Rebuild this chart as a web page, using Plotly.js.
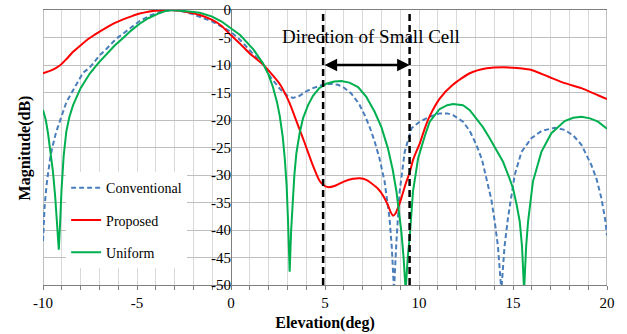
<!DOCTYPE html>
<html>
<head>
<meta charset="utf-8">
<script src="https://cdn.plot.ly/plotly-3.0.1.min.js"></script>
<style>html,body{margin:0;padding:0;background:#fff;}#chart{width:627px;height:334px;}</style>
</head>
<body>
<div id="chart"></div>
<script>
// ---- Data ----
const seriesNames = ["Conventional", "Proposed", "Uniform"];

const elevConv = [-10, -9.91, -9.8, -9.73, -9.6, -9.47, -9.3, -9.11, -8.76, -8.4, -7.87, -7.52, -6.98, -6.63, -6.1, -5.74, -5.23, -4.86, -4.3, -3.8, -3.2, -2.6, -2.0, -1.5, -1.0, -0.5, 0, 0.5, 1.0, 1.4, 1.7, 2.06, 2.59, 3.0, 3.3, 3.65, 4.0, 4.36, 4.9, 5.3, 5.69, 6.0, 6.4, 6.8, 7.11, 7.4, 7.64, 7.9, 8.17, 8.43, 8.55, 8.67, 8.8, 8.97, 9.24, 9.6, 10.04, 10.57, 11.1, 11.5, 11.81, 12.34, 12.7, 13.05, 13.35, 13.59, 13.85, 14.03, 14.2, 14.38, 14.55, 14.73, 14.9, 15.09, 15.45, 15.98, 16.51, 17.22, 17.75, 18.2, 18.64, 19.17, 19.45, 19.7, 19.9, 20];
const magConv = [-42, -35.5, -31.5, -29.4, -26.5, -24.5, -22.2, -20.3, -16.8, -14.6, -11.4, -10.5, -8.2, -7.1, -5.2, -4.3, -2.9, -2.0, -1.0, -0.35, 0, -0.25, -0.8, -1.4, -2.1, -3.0, -4.0, -5.5, -7.4, -8.8, -9.8, -12.0, -14.3, -15.6, -16.0, -15.6, -14.8, -14.2, -13.6, -13.4, -13.6, -14.1, -15.2, -17.0, -19.1, -21.5, -23.9, -27.0, -31.2, -37.8, -43, -51, -42, -33, -25.8, -21.5, -20.3, -19.4, -18.8, -18.8, -19.1, -20.3, -22.0, -24.5, -27.2, -30.6, -34.5, -38.5, -43, -51, -43, -37.9, -33.8, -30.0, -25.8, -23.3, -22.0, -21.4, -21.8, -22.8, -24.5, -28.2, -30.8, -34.2, -38, -41];

const elevProp = [-10, -9.5, -9.11, -8.75, -8.4, -7.96, -7.52, -7.07, -6.63, -6.2, -5.74, -5.3, -4.86, -4.4, -3.9, -3.3, -2.8, -2.3, -1.66, -1.0, -0.5, 0, 0.5, 1.0, 1.7, 2.2, 2.6, 3.1, 3.48, 3.9, 4.36, 4.7, 4.95, 5.16, 5.5, 6.0, 6.5, 6.85, 7.2, 7.5, 7.82, 8.1, 8.35, 8.5, 8.62, 8.75, 8.9, 9.06, 9.3, 9.5, 9.68, 9.85, 10.04, 10.3, 10.57, 11.1, 11.8, 12.7, 13.6, 14.47, 15.0, 15.36, 15.98, 16.87, 17.75, 18.64, 19.52, 20];
const magProp = [-11.5, -10.9, -10.1, -8.9, -7.6, -6.3, -5.1, -4.1, -3.2, -2.4, -1.7, -1.15, -0.65, -0.3, -0.08, 0, -0.1, -0.4, -0.9, -1.8, -2.9, -4.6, -6.2, -7.9, -9.9, -11.8, -13.5, -16.8, -20.2, -24.0, -28.3, -31.0, -31.9, -32.2, -32.0, -31.2, -30.7, -30.6, -30.9, -31.6, -32.5, -33.8, -35.5, -36.8, -37.4, -37.0, -35.8, -34.2, -31.5, -29.6, -27.3, -25.8, -24.3, -21.6, -19.3, -16.1, -13.6, -11.5, -10.6, -10.4, -10.5, -10.6, -10.9, -12.1, -13.3, -14.2, -15.5, -16.2];

const elevUni = [-10, -9.85, -9.73, -9.6, -9.47, -9.35, -9.25, -9.16, -9.08, -9.02, -8.9, -8.76, -8.6, -8.4, -8.0, -7.52, -7.07, -6.63, -6.2, -5.74, -5.3, -4.86, -4.4, -3.9, -3.5, -3.1, -2.6, -2.1, -1.66, -1.0, -0.5, 0, 0.5, 0.82, 1.2, 1.7, 2.0, 2.23, 2.45, 2.59, 2.75, 2.86, 2.96, 3.03, 3.12, 3.2, 3.27, 3.37, 3.48, 3.65, 3.83, 4.1, 4.36, 4.7, 5.07, 5.5, 5.87, 6.3, 6.76, 7.2, 7.64, 8.0, 8.35, 8.6, 8.8, 9.06, 9.18, 9.29, 9.4, 9.5, 9.68, 9.95, 10.3, 10.57, 11.1, 11.5, 11.81, 12.34, 12.7, 13.05, 13.4, 13.76, 14.1, 14.47, 14.8, 15.0, 15.2, 15.36, 15.48, 15.59, 15.7, 15.8, 16.06, 16.51, 17.04, 17.75, 18.2, 18.64, 19.1, 19.52, 20];
const magUni = [-18.2, -20.0, -22.5, -25.8, -29.4, -34, -39, -43.6, -38, -33, -26.5, -22.1, -19.5, -17.3, -14.2, -11.6, -9.7, -8.0, -6.5, -5.1, -3.7, -2.5, -1.5, -0.7, -0.2, 0, -0.1, -0.3, -0.5, -1.2, -2.1, -3.3, -4.6, -5.8, -7.2, -9.7, -11.8, -14.0, -16.8, -19.2, -23, -27.0, -32, -38, -47.6, -40, -35.5, -30, -26.0, -22.4, -19.7, -17.3, -15.6, -14.2, -13.4, -13.0, -12.9, -13.2, -14.0, -15.8, -18.5, -21.3, -25.2, -29.0, -33.0, -40.3, -45, -51, -45, -41.5, -33, -27.0, -23.0, -20.3, -18.0, -17.3, -17.1, -17.3, -18.2, -19.7, -21.3, -23.3, -25.4, -27.6, -30.5, -32.4, -35.5, -38.5, -43, -51, -43, -38.5, -31.2, -25.8, -22.4, -20.2, -19.6, -19.4, -19.7, -20.3, -21.6];

const cellEdges = [4.9, 9.5];          // direction of small cell (deg)
const arrowLevel = -10;                 // dB
const xTicks = [-10, -5, 0, 5, 10, 15, 20];
const yTicks = [-50, -45, -40, -35, -30, -25, -20, -15, -10, -5, 0];

// ---- Chart ----
const serif = "Liberation Serif";
const traces = [
  {x: elevConv, y: magConv, name: seriesNames[0], legendgroup: "a", type: "scatter", mode: "lines",
   line: {color: "#4a7ebb", width: 2, dash: "5px,3px"}},
  {x: elevProp, y: magProp, name: seriesNames[1], legendgroup: "b", type: "scatter", mode: "lines",
   line: {color: "#ff0000", width: 2, shape: "spline", smoothing: 0.6}},
  {x: elevUni, y: magUni, name: seriesNames[2], legendgroup: "c", type: "scatter", mode: "lines",
   line: {color: "#00b050", width: 2}}
];

const layout = {
  width: 627, height: 334,
  margin: {l: 43, r: 20, t: 10, b: 49},
  paper_bgcolor: "#ffffff", plot_bgcolor: "#ffffff",
  font: {family: serif, size: 14, color: "#000"},
  showlegend: true,
  xaxis: {
    range: [-10, 20], tickvals: xTicks, ticktext: xTicks.map(String),
    showgrid: true, gridcolor: "#d9d9d9", gridwidth: 1,
    minor: {dtick: 1, tick0: 0, showgrid: true, gridcolor: "#d9d9d9", gridwidth: 1, ticks: "outside", ticklen: 4, tickcolor: "#7f7f7f"},
    ticks: "outside", ticklen: 4, tickcolor: "#7f7f7f",
    showline: true, linecolor: "#7f7f7f", linewidth: 1, mirror: true,
    zeroline: true, zerolinecolor: "#7f7f7f", zerolinewidth: 1,
    tickfont: {family: serif, size: 15, color: "#000"},
    title: {text: "<b>Elevation(deg)</b>", font: {family: serif, size: 16, color: "#000"}, standoff: 6}
  },
  yaxis: {
    range: [-50, 0], tickvals: yTicks, ticktext: yTicks.map(String),
    showgrid: true, gridcolor: "#bfbfbf", gridwidth: 1,
    anchor: "free", position: 1/3, showline: false, zeroline: false,
    ticks: "", tickfont: {family: serif, size: 15, color: "#000"}
  },
  legend: {
    x: 0.041, y: 0.41, xanchor: "left", yanchor: "top",
    bgcolor: "#ffffff", borderwidth: 0,
    font: {family: serif, size: 14, color: "#000"},
    traceorder: "grouped", tracegroupgap: 11, itemwidth: 30
  },
  shapes: [
    // white column behind y tick labels
    {type: "rect", xref: "x", yref: "y", x0: -1.72, x1: -0.1, y0: -50, y1: 0,
     fillcolor: "#ffffff", line: {width: 0}, layer: "below"},
    // white box behind the direction label
    {type: "rect", xref: "x", yref: "y", x0: 1.6, x1: 13.8, y0: -1.8, y1: -7.8,
     fillcolor: "#ffffff", line: {width: 0}, layer: "below"},
    // left / right frame
    {type: "line", xref: "x", yref: "y", x0: -10, x1: -10, y0: -50, y1: 0,
     line: {color: "#7f7f7f", width: 1}, layer: "below"},
    {type: "line", xref: "x", yref: "y", x0: 20, x1: 20, y0: -50, y1: 0,
     line: {color: "#7f7f7f", width: 1}, layer: "below"},
    // dashed cell edges
    {type: "line", xref: "x", yref: "y", x0: cellEdges[0], x1: cellEdges[0], y0: -50, y1: 0,
     line: {color: "#000000", width: 2.5, dash: "7px,4px"}, layer: "above"},
    {type: "line", xref: "x", yref: "y", x0: cellEdges[1], x1: cellEdges[1], y0: -50, y1: 0,
     line: {color: "#000000", width: 2.5, dash: "7px,4px"}, layer: "above"}
  ],
  annotations: [
    {xref: "x", yref: "y", x: 7.45, y: -4.9, text: "Direction of Small Cell", showarrow: false,
     font: {family: serif, size: 19, color: "#000"}, xanchor: "center", yanchor: "middle"},
    {xref: "x", yref: "y", x: cellEdges[1], y: arrowLevel, ax: cellEdges[0], ay: arrowLevel,
     axref: "x", ayref: "y", text: "", showarrow: true, arrowside: "end+start",
     arrowhead: 2, startarrowhead: 2, arrowsize: 1, startarrowsize: 1, arrowwidth: 2.5,
     arrowcolor: "#000000", standoff: 0, startstandoff: 0},
    {xref: "paper", yref: "paper", x: -0.032, y: 0.5, text: "<b>Magnitude(dB)</b>", textangle: -90,
     showarrow: false, font: {family: serif, size: 16, color: "#000"}, xanchor: "center", yanchor: "middle"}
  ]
};

Plotly.newPlot("chart", traces, layout, {displayModeBar: false, staticPlot: true});
</script>
</body>
</html>
